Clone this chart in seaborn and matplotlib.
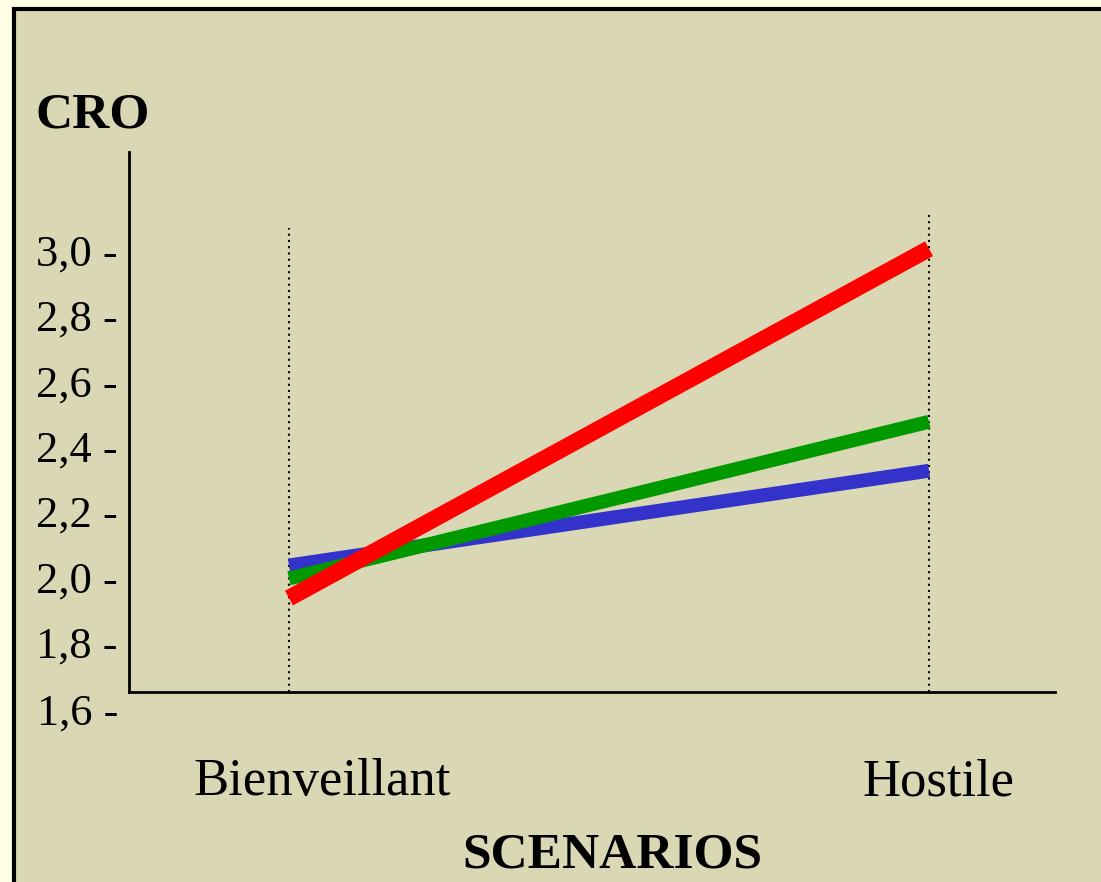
import numpy as np
import pandas as pd
import matplotlib
matplotlib.use("Agg")
import matplotlib.pyplot as plt
from matplotlib.patches import Rectangle
import seaborn as sns

# data
scenarios = ["Bienveillant", "Hostile"]
groupe_bleu = [2.04, 2.33]
groupe_vert = [2.00, 2.48]
groupe_rouge = [1.94, 3.01]
y_ticks = [1.6, 1.8, 2.0, 2.2, 2.4, 2.6, 2.8, 3.0]
y_tick_labels = ["1,6 -", "1,8 -", "2,0 -", "2,2 -", "2,4 -", "2,6 -", "2,8 -", "3,0 -"]

groups = ["bleu", "vert", "rouge"]
series = [groupe_bleu, groupe_vert, groupe_rouge]
palette = {"bleu": "#3333CC", "vert": "#009900", "rouge": "#FF0000"}
widths = {"bleu": 10, "vert": 10, "rouge": 12}

rows = []
for g, vals in zip(groups, series):
    for i, v in enumerate(vals):
        rows.append({"groupe": g, "x": i, "scenario": scenarios[i], "CRO": v})
df = pd.DataFrame(rows)

sns.set_theme(style="white")
plt.rcParams['font.family'] = ['Liberation Serif', 'DejaVu Serif']
plt.rcParams['text.color'] = 'black'

W, H = 1101, 882
fig = plt.figure(figsize=(W / 100, H / 100), dpi=100)
fig.patch.set_facecolor("#FFFFE6")
panel = Rectangle((13.5 / W, -0.05), 1.2, 1 - 8.5 / H + 0.05, transform=fig.transFigure,
                  facecolor="#DAD8B4", edgecolor="black", linewidth=3, zorder=-1)
fig.patches.append(panel)

ax = fig.add_axes([129 / W, 1 - 692 / H, (1055 - 129) / W, (692 - 152) / H])
ax.set_facecolor("none")
ax.set_zorder(1)

for g in groups:
    sns.lineplot(data=df[df["groupe"] == g], x="x", y="CRO", color=palette[g],
                 linewidth=widths[g], ax=ax, legend=False, solid_capstyle="butt", zorder=3)

# axis limits: 3.0 at y=252px, 65.3px per 0.2
px_per_unit = 65.3 / 0.2
ax.set_ylim(3.0 - (692 - 252) / px_per_unit, 3.0 + (252 - 152) / px_per_unit)
ax.set_xlim((129 - 289) / 640, (1055 - 289) / 640)

# dotted guides
ylo = ax.get_ylim()[0]
ax.vlines(0, ylo, 3.0 + (252 - 228) / px_per_unit, colors="black", linestyles=(0, (1, 2)), linewidth=1.5, zorder=2)
ax.vlines(1, ylo, 3.0 + (252 - 212) / px_per_unit, colors="black", linestyles=(0, (1, 2)), linewidth=1.5, zorder=2)

for s in ["top", "right"]:
    ax.spines[s].set_visible(False)
for s in ["left", "bottom"]:
    ax.spines[s].set_color("black")
    ax.spines[s].set_linewidth(2)

ax.set_xticks([])
ax.set_yticks([])
ax.set_xlabel("")
ax.set_ylabel("")

# tick labels as text (1,6 sits below the axis line)
for v, lab in zip(y_ticks, y_tick_labels):
    off = -0.015 if v == 1.6 else -0.008
    ax.text(-0.012, v + off, lab, transform=ax.get_yaxis_transform(), ha="right", va="center",
            fontsize=32, color="black", clip_on=False)

fig.text(322 / W, 1 - 782 / H, scenarios[0], ha="center", va="center", fontsize=38, color="black")
fig.text(938 / W, 1 - 782 / H, scenarios[1], ha="center", va="center", fontsize=38, color="black")
fig.text(612 / W, 1 - 855 / H, "SCENARIOS", ha="center", va="center", fontsize=37,
         fontweight="bold", color="black")
fig.text(35 / W, 1 - 115 / H, "CRO", ha="left", va="center", fontsize=37,
         fontweight="bold", color="black")

fig.savefig("out.png", dpi=100, facecolor=fig.get_facecolor())
